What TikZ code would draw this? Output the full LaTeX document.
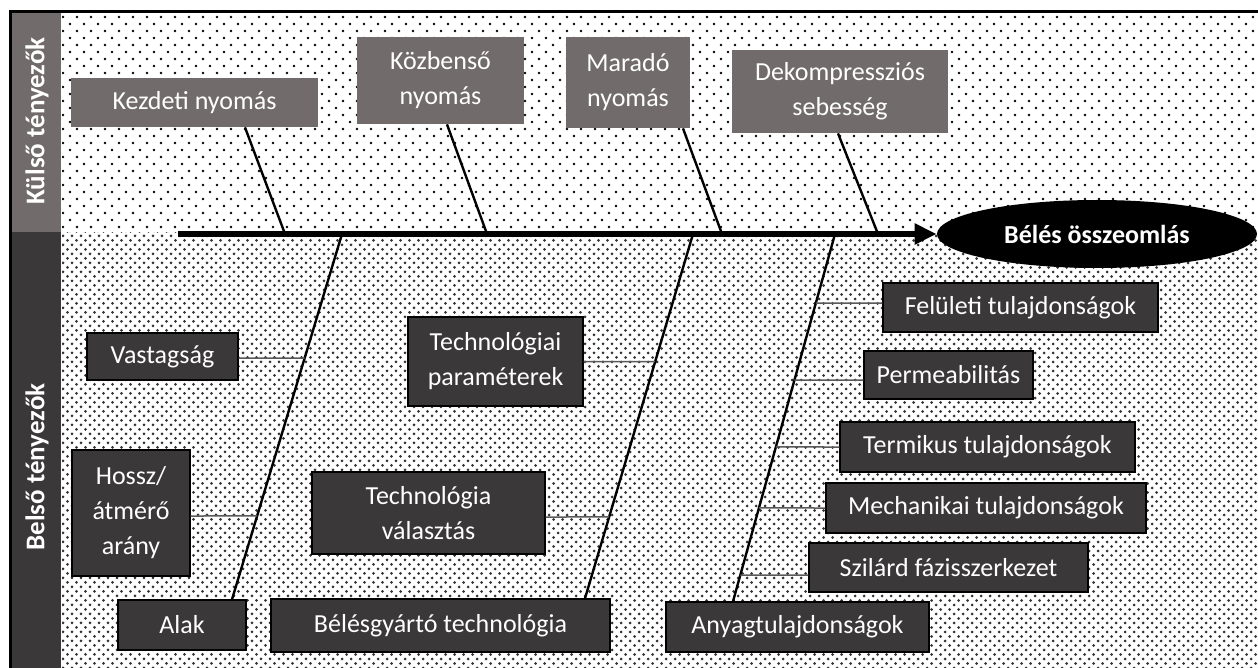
\documentclass[tikz,border=0pt]{standalone}
\usepackage{fontspec}
\setmainfont{Carlito}
\usetikzlibrary{patterns,arrows.meta,calc,shapes.geometric}
\definecolor{boxgray}{HTML}{716B6B}
\definecolor{boxdark}{HTML}{3A3838}
\definecolor{ribgray}{HTML}{5A5A5A}
\pgfdeclarepatternformonly{sparsedots}{\pgfqpoint{-1pt}{-1pt}}{\pgfqpoint{4.5pt}{4.5pt}}{\pgfqpoint{7pt}{7pt}}{%
  \pgfpathcircle{\pgfqpoint{0pt}{0pt}}{0.72pt}%
  \pgfpathcircle{\pgfqpoint{3.5pt}{3.5pt}}{0.72pt}%
  \pgfusepath{fill}}
\pgfdeclarepatternformonly{densedots}{\pgfqpoint{-1pt}{-1pt}}{\pgfqpoint{3.25pt}{3.25pt}}{\pgfqpoint{4.5pt}{4.5pt}}{%
  \pgfpathcircle{\pgfqpoint{0pt}{0pt}}{0.75pt}%
  \pgfpathcircle{\pgfqpoint{2.25pt}{2.25pt}}{0.75pt}%
  \pgfusepath{fill}}
\tikzset{
  boxtext/.style={text=white, inner sep=0pt, align=center, font=\fontsize{13pt}{17.5pt}\selectfont},
  gbox/.style={boxtext, fill=boxgray},
  dbox/.style={boxtext, fill=boxdark, draw=black, line width=0.6pt},
  bone/.style={line width=1.2pt, draw=black},
  rib/.style={line width=0.75pt, draw=ribgray},
  sidelabel/.style={rotate=90, text=white, font=\fontsize{13.5pt}{16pt}\selectfont\bfseries},
}
\newcommand\ribE[4]{%
  \coordinate (#1ra) at ([yshift=#2]#1.west);
  \coordinate (#1rb) at ([yshift=#2]#1.east);
  \draw[rib] (#1rb) -- (intersection of #3--#4 and #1ra--#1rb);}
\newcommand\ribW[4]{%
  \coordinate (#1ra) at ([yshift=#2]#1.west);
  \coordinate (#1rb) at ([yshift=#2]#1.east);
  \draw[rib] (#1ra) -- (intersection of #3--#4 and #1ra--#1rb);}
\begin{document}
\begin{tikzpicture}[x=0.5pt,y=-0.5pt]
\useasboundingbox (0,0) rectangle (1258,668);
% backgrounds
\fill[white] (0,0) rectangle (1258,668);
\fill[pattern=sparsedots, pattern color=black] (62,13) rectangle (1262,233);
\fill[pattern=densedots, pattern color=black!80] (62,233) rectangle (1262,672);
% left bar
\fill[boxgray] (12,13) rectangle (61,232);
\fill[boxdark] (12,232) rectangle (61,672);
\node[sidelabel] (kl) at (37,121) {Külső tényezők};
\node[sidelabel] (bl) at (37,467) {Belső tényezők};
% frame
\draw[line width=1.5pt] (10.5,672) -- (10.5,11.5) -- (1262,11.5);
% effect
\node[ellipse, fill=black, minimum width=160pt, minimum height=34pt, inner sep=0pt,
      text=white, font=\fontsize{13pt}{16pt}\selectfont\bfseries] (eff) at (1097,234) {Bélés összeomlás};
\coordinate (tail) at (178,234);
\draw[line width=3pt, -{Triangle[length=11pt,width=10pt]}] (tail) -- (eff.west);
% top causes
\node[gbox, minimum width=123.5pt, minimum height=24.5pt] (kez) at (194.5,102.5) {Kezdeti nyomás};
\node[gbox, minimum width=83.5pt, minimum height=43.5pt] (koz) at (440.5,80.5) {Közbenső\\nyomás};
\node[gbox, minimum width=62pt, minimum height=45.5pt] (mar) at (628,82.5) {Maradó\\nyomás};
\node[gbox, minimum width=108pt, minimum height=41.5pt] (dek) at (840,91.5) {Dekompressziós\\sebesség};
\coordinate (s1) at (285,234);
\coordinate (s2) at (487,234);
\coordinate (s3) at (722,234);
\coordinate (s4) at (878,234);
\draw[bone] ($(kez.south)+(50.5,0)$) -- (s1);
\draw[bone] ($(koz.south)+(6.5,0)$) -- (s2);
\draw[bone] ($(mar.south)+(55,0)$) -- (s3);
\draw[bone] ($(dek.south)+(-2,0)$) -- (s4);
% bottom causes
\node[dbox, minimum width=75.5pt, minimum height=23.5pt] (vas) at (162.5,356.5) {Vastagság};
\node[dbox, minimum width=87.5pt, minimum height=44.5pt] (tpar) at (495.5,361.5) {Technológiai\\paraméterek};
\node[dbox, minimum width=59pt, minimum height=63pt] (hossz) at (131,513) {Hossz/\\átmérő\\arány};
\node[dbox, minimum width=116.5pt, minimum height=41pt] (tval) at (428.5,513) {Technológia\\választás};
\node[dbox, minimum width=64pt, minimum height=25pt] (alak) at (182,625) {Alak};
\node[dbox, minimum width=169.5pt, minimum height=26.5pt] (bgy) at (440.5,625.5) {Bélésgyártó technológia};
\node[dbox, minimum width=131.5pt, minimum height=25pt] (anyag) at (797.5,627) {Anyagtulajdonságok};
\node[dbox, minimum width=137.5pt, minimum height=24.5pt] (fel) at (1020.5,307.5) {Felületi tulajdonságok};
\node[dbox, minimum width=84.5pt, minimum height=24pt] (perm) at (948.5,375) {Permeabilitás};
\node[dbox, minimum width=147.5pt, minimum height=25pt] (term) at (987.5,447) {Termikus tulajdonságok};
\node[dbox, minimum width=160pt, minimum height=25pt] (mech) at (986,508) {Mechanikai tulajdonságok};
\node[dbox, minimum width=139.5pt, minimum height=24.5pt] (szil) at (948.5,567.5) {Szilárd fázisszerkezet};
\coordinate (b1) at (342,234);
\coordinate (b2) at (693,234);
\coordinate (b3) at (835,234);
\coordinate (a1) at ($(alak.north)+(50,0)$);
\coordinate (a2) at ($(bgy.north)+(144.5,0)$);
\coordinate (a3) at ($(anyag.north)+(-64.5,0)$);
\draw[bone] (b1) -- (a1);
\draw[bone] (b2) -- (a2);
\draw[bone] (b3) -- (a3);
% ribs
\ribE{vas}{-0.75pt}{b1}{a1}
\ribE{hossz}{-1.5pt}{b1}{a1}
\ribE{tpar}{0pt}{b2}{a2}
\ribE{tval}{-2pt}{b2}{a2}
\ribW{fel}{2.25pt}{b3}{a3}
\ribW{perm}{-2.5pt}{b3}{a3}
\ribW{term}{0pt}{b3}{a3}
\ribW{mech}{0pt}{b3}{a3}
\ribW{szil}{-3.75pt}{b3}{a3}
\end{tikzpicture}
\end{document}
